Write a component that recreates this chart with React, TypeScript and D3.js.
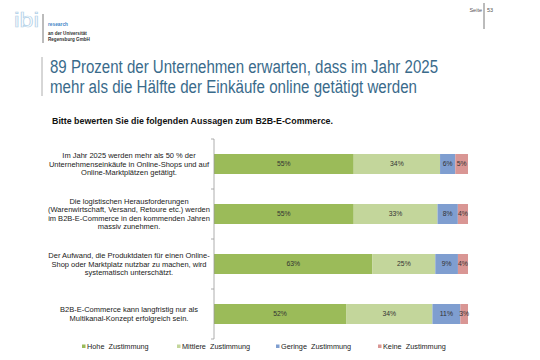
import React from "react";
import * as d3 from "d3";

const categories = ["s1", "s2", "s3", "s4"];
const statementLines = [
  ["Im Jahr 2025 werden mehr als 50 % der", "Unternehmenseinkäufe in Online-Shops und auf", "Online-Marktplätzen getätigt."],
  ["Die logistischen Herausforderungen", "(Warenwirtschaft, Versand, Retoure etc.) werden", "im B2B-E-Commerce in den kommenden Jahren", "massiv zunehmen."],
  ["Der Aufwand, die Produktdaten für einen Online-", "Shop oder Marktplatz nutzbar zu machen, wird", "systematisch unterschätzt."],
  ["B2B-E-Commerce kann langfristig nur als", "Multikanal-Konzept erfolgreich sein."],
];
const seriesNames = ["Hohe  Zustimmung", "Mittlere  Zustimmung", "Geringe  Zustimmung", "Keine  Zustimmung"];
const hohe = [55, 55, 63, 52];
const mittlere = [34, 33, 25, 34];
const geringe = [6, 8, 9, 11];
const keine = [5, 4, 4, 3];
const colors = ["#9bbb59", "#c3d69b", "#7f9ed0", "#d99694"];

const keys = ["hohe", "mittlere", "geringe", "keine"];
const rows = categories.map((c, i) => ({
  cat: c,
  hohe: hohe[i],
  mittlere: mittlere[i],
  geringe: geringe[i],
  keine: keine[i],
}));

export default function App() {
  const W = 540, H = 360;
  const x = d3.scaleLinear().domain([0, 1]).range([214, 468]);
  const y = d3.scaleBand().domain(categories).range([139, 339]).paddingInner(0.6).paddingOuter(0.3);
  const stacked = d3.stack<any>().keys(keys).offset(d3.stackOffsetExpand)(rows as any);
  const step = y.step();
  const tickYs = d3.range(categories.length + 1).map((i) => 139 + i * step);
  const legendX = [82, 177, 276, 378];
  const font = "Liberation Sans, Arial, sans-serif";

  return (
    <svg width={W} height={H} style={{ position: "absolute", left: 0, top: 0, background: "#fff" }} fontFamily={font}>
      {/* Logo */}
      <text x={14} y={27} fontSize={20} fill="none" stroke="#b3d1e8" strokeWidth={0.7} fontFamily={font} textLength={25} lengthAdjust="spacingAndGlyphs">ibi</text>
      <line x1={43} x2={43} y1={14} y2={43} stroke="#555" strokeWidth={0.8} />
      <text x={48} y={26} fontSize={4.8} fill="#3d85c6" fontWeight="bold">research</text>
      <text x={48} y={35} fontSize={4.6} fill="#333" fontWeight="bold">an der Universität</text>
      <text x={48} y={41} fontSize={4.6} fill="#333" fontWeight="bold">Regensburg GmbH</text>

      {/* Page */}
      <text x={482} y={12} fontSize={5.5} fill="#555" textAnchor="end">Seite</text>
      <line x1={484} x2={484} y1={3} y2={29} stroke="#555" strokeWidth={0.8} />
      <text x={487} y={12} fontSize={5.5} fill="#555">53</text>

      {/* Title */}
      <line x1={42} x2={42} y1={57} y2={96} stroke="#999" strokeWidth={0.8} />
      <text x={50} y={73} fontSize={18} fill="#3a6b8b" fontFamily="'Liberation Sans Narrow', 'Arial Narrow', Liberation Sans, sans-serif" textLength={388} lengthAdjust="spacingAndGlyphs">89 Prozent der Unternehmen erwarten, dass im Jahr 2025</text>
      <text x={50} y={93} fontSize={18} fill="#3a6b8b" fontFamily="'Liberation Sans Narrow', 'Arial Narrow', Liberation Sans, sans-serif" textLength={367} lengthAdjust="spacingAndGlyphs">mehr als die Hälfte der Einkäufe online getätigt werden</text>

      <text x={52} y={124} fontSize={8.4} fontWeight="bold" fill="#111" textLength={281} lengthAdjust="spacingAndGlyphs">Bitte bewerten Sie die folgenden Aussagen zum B2B-E-Commerce.</text>

      {/* Bars */}
      {stacked.map((s, si) => (
        <g key={keys[si]}>
          {s.map((d: any, i: number) => {
            const x0 = x(d[0]);
            const x1 = x(d[1]);
            const yy = y(categories[i])!;
            const v = (rows[i] as any)[keys[si]];
            return (
              <g key={i}>
                <rect x={x0} y={yy} width={x1 - x0} height={y.bandwidth()} fill={colors[si]} />
                <text x={(x0 + x1) / 2} y={yy + y.bandwidth() / 2 + 2.4} fontSize={6.8} textAnchor="middle" fill="#333">{v}%</text>
              </g>
            );
          })}
        </g>
      ))}

      {/* Axis */}
      <line x1={214} x2={214} y1={139} y2={339} stroke="#999" strokeWidth={0.8} />
      {tickYs.map((t, i) => (
        <line key={i} x1={211} x2={214} y1={t} y2={t} stroke="#999" strokeWidth={0.8} />
      ))}

      {/* Category labels */}
      {categories.map((c, i) => {
        const lines = statementLines[i];
        const cy = y(c)! + y.bandwidth() / 2;
        const lh = 8.5;
        const start = cy - ((lines.length - 1) * lh) / 2 + 2.5;
        return (
          <g key={c}>
            {lines.map((l, li) => (
              <text key={li} x={129} y={start + li * lh} fontSize={7.5} textAnchor="middle" fill="#222">{l}</text>
            ))}
          </g>
        );
      })}

      {/* Legend */}
      {seriesNames.map((n, i) => (
        <g key={n}>
          <rect x={legendX[i]} y={344.5} width={3.5} height={3.5} fill={colors[i]} />
          <text x={legendX[i] + 5} y={348.7} fontSize={7.3} fill="#222" xmlSpace="preserve">{n}</text>
        </g>
      ))}
    </svg>
  );
}
